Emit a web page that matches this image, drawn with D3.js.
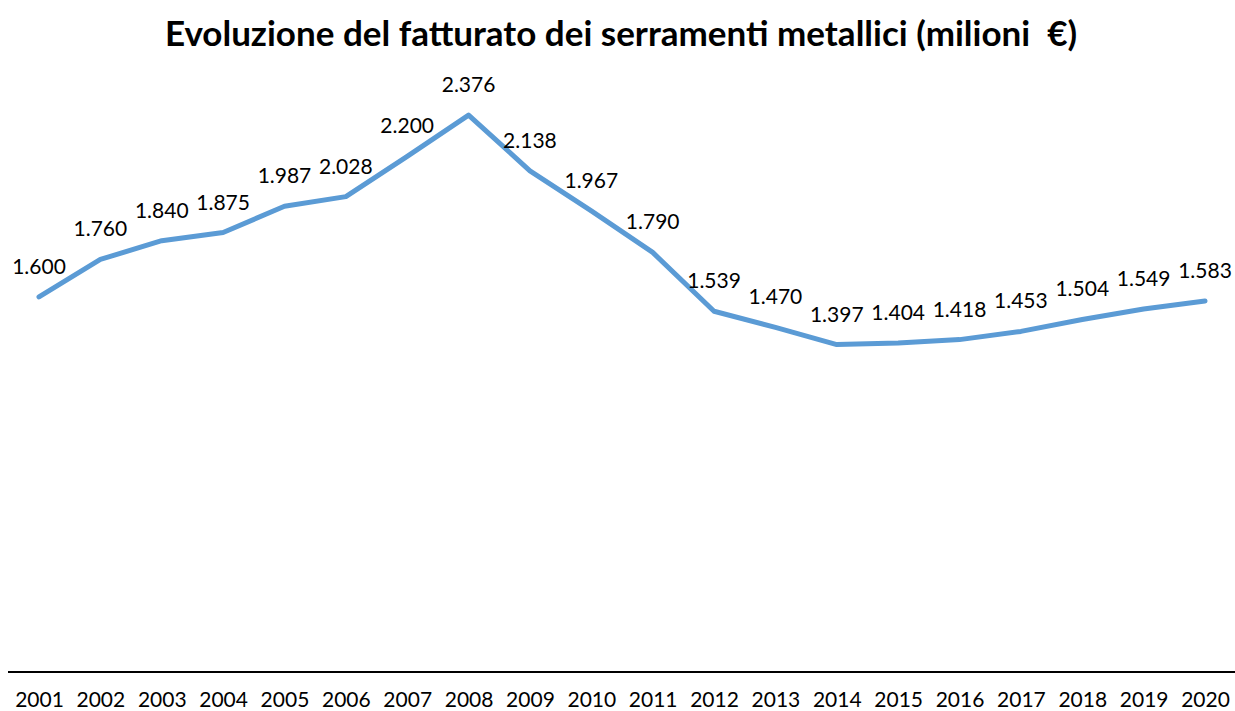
<!DOCTYPE html>
<html>
<head>
<meta charset="utf-8">
<script src="https://cdn.jsdelivr.net/npm/d3@7.9.0/dist/d3.min.js"></script>
<style>
  body { margin: 0; background: #fff; }
  svg { display: block; font-family: Lato, 'Open Sans', sans-serif; }
</style>
</head>
<body>
<svg id="chart" width="1235" height="711"></svg>
<script>
const years = ['2001','2002','2003','2004','2005','2006','2007','2008','2009','2010',
  '2011','2012','2013','2014','2015','2016','2017','2018','2019','2020'];
const fatturato = [1600, 1760, 1840, 1875, 1987, 2028, 2200, 2376, 2138, 1967,
  1790, 1539, 1470, 1397, 1404, 1418, 1453, 1504, 1549, 1583];
const titleText = 'Evoluzione del fatturato dei serramenti metallici (milioni  €)';

const svg = d3.select('#chart');
const width = 1235;

const x = d3.scalePoint().domain(years).range([39, 1205]);
const y = d3.scaleLinear().domain([0, 2500]).range([672, 86]);

const data = years.map((yr, i) => ({ year: yr, value: fatturato[i] }));

// titolo
svg.append('text')
  .attr('x', 621)
  .attr('y', 46)
  .attr('text-anchor', 'middle')
  .attr('font-size', 35)
  .attr('font-weight', 'bold')
  .attr('fill', '#000')
  .style('white-space', 'pre')
  .text(titleText);

// asse x
const xAxis = svg.append('g')
  .attr('transform', `translate(0,${y(0)})`)
  .call(d3.axisBottom(x).tickSize(0));
xAxis.select('.domain').remove();
xAxis.selectAll('text')
  .attr('y', 35)
  .attr('dy', 0)
  .attr('font-size', 21)
  .attr('font-family', 'Lato, sans-serif')
  .attr('fill', '#000');
svg.append('line')
  .attr('x1', 8).attr('x2', width)
  .attr('y1', y(0)).attr('y2', y(0))
  .attr('stroke', '#000')
  .attr('stroke-width', 2);

// linea
const line = d3.line()
  .x(d => x(d.year))
  .y(d => y(d.value));

svg.append('path')
  .datum(data)
  .attr('d', line)
  .attr('fill', 'none')
  .attr('stroke', '#5B9BD5')
  .attr('stroke-width', 5)
  .attr('stroke-linecap', 'round')
  .attr('stroke-linejoin', 'round');

// etichette
const fmt = v => d3.format(',')(v).replace(',', '.');
svg.append('g')
  .selectAll('text')
  .data(data)
  .join('text')
  .attr('x', d => x(d.year))
  .attr('y', d => y(d.value) - 23)
  .attr('text-anchor', 'middle')
  .attr('font-size', 21)
  .attr('fill', '#000')
  .text(d => fmt(d.value));
</script>
</body>
</html>
